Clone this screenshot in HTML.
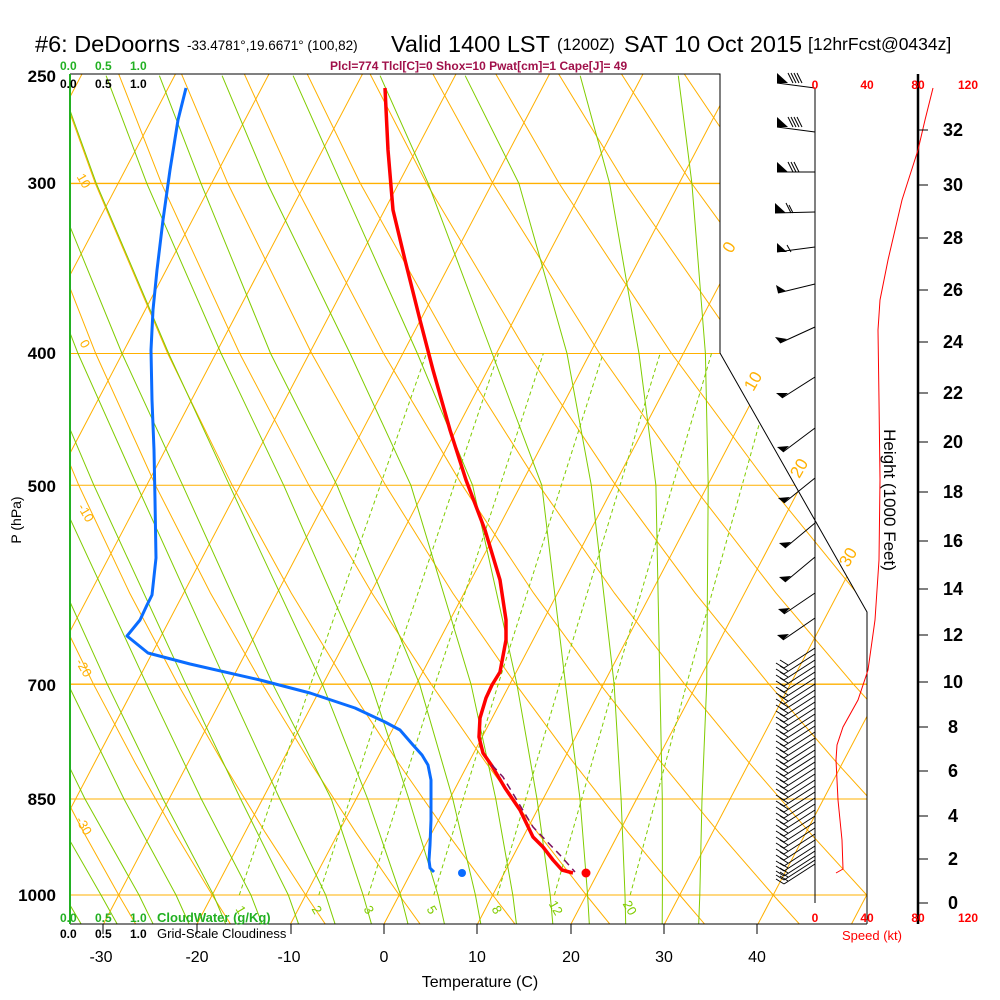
<!DOCTYPE html>
<html><head><meta charset="utf-8"><style>
body{margin:0;background:#fff}
svg{display:block;font-family:"Liberation Sans",Arial,sans-serif}
</style></head><body>
<svg width="1000" height="1000" viewBox="0 0 1000 1000" xmlns="http://www.w3.org/2000/svg" xmlns:xlink="http://www.w3.org/1999/xlink">
<defs>
<clipPath id="cp"><polygon points="70,74 720,74 720,353 867,612 867,924 70,924"/></clipPath>
<g id="wb" stroke="#000" stroke-width="1"><line x1="815" y1="0" x2="784" y2="20"/><line x1="784" y1="20" x2="776" y2="15"/><line x1="788" y1="17" x2="780" y2="12"/></g>
</defs>
<rect width="1000" height="1000" fill="#fff"/>
<g clip-path="url(#cp)" fill="none">
<g stroke="#ffb000" stroke-width="1">
<line x1="70" x2="870" y1="183.4" y2="183.4" stroke-width="1.4"/>
<line x1="70" x2="870" y1="353.5" y2="353.5"/>
<line x1="70" x2="870" y1="485.3" y2="485.3"/>
<line x1="70" x2="870" y1="684.2" y2="684.2" stroke-width="1.4"/>
<line x1="70" x2="870" y1="799" y2="799"/>
<line x1="70" x2="870" y1="895" y2="895"/>
<line x1="-364" y1="924" x2="82" y2="74"/>
<line x1="-270.5" y1="924" x2="175.5" y2="74"/>
<line x1="-177" y1="924" x2="269" y2="74"/>
<line x1="-83.5" y1="924" x2="362.5" y2="74"/>
<line x1="10" y1="924" x2="456" y2="74"/>
<line x1="103.5" y1="924" x2="549.5" y2="74"/>
<line x1="197" y1="924" x2="643" y2="74"/>
<line x1="290.5" y1="924" x2="736.5" y2="74"/>
<line x1="384" y1="924" x2="830" y2="74"/>
<line x1="477.5" y1="924" x2="923.5" y2="74"/>
<line x1="571" y1="924" x2="1017" y2="74"/>
<line x1="664.5" y1="924" x2="1110.5" y2="74"/>
<line x1="758" y1="924" x2="1204" y2="74"/>
<line x1="851.5" y1="924" x2="1297.5" y2="74"/>
<polyline points="40.7,923.8 25.2,895 -6.8,832.7 -40.2,763.1 -75.4,684.2 -112.7,593.1"/>
<polyline points="135.5,923.8 118.7,895 83.9,832.7 47.5,763.1 9,684.2 -31.9,593.1"/>
<polyline points="230.3,923.8 212.2,895 174.7,832.7 135.3,763.1 93.5,684.2 48.9,593.1 2.1,485.3 -48.2,353.5"/>
<polyline points="325.1,923.8 305.7,895 265.4,832.7 223,763.1 177.9,684.2 129.7,593.1 78.8,485.3 23.7,353.5 -37.3,183.4"/>
<polyline points="419.9,923.8 399.2,895 356.1,832.7 310.7,763.1 262.4,684.2 210.5,593.1 155.5,485.3 95.7,353.5 29,183.4 -10.4,63.8"/>
<polyline points="514.8,923.8 492.7,895 446.9,832.7 398.5,763.1 346.8,684.2 291.3,593.1 232.2,485.3 167.7,353.5 95.3,183.4 52.2,63.8"/>
<polyline points="609.6,923.8 586.2,895 537.6,832.7 486.2,763.1 431.2,684.2 372,593.1 308.9,485.3 239.7,353.5 161.5,183.4 114.7,63.8"/>
<polyline points="704.4,923.8 679.7,895 628.3,832.7 573.9,763.1 515.7,684.2 452.8,593.1 385.6,485.3 311.7,353.5 227.8,183.4 177.2,63.8"/>
<polyline points="799.2,923.8 773.2,895 719,832.7 661.6,763.1 600.1,684.2 533.6,593.1 462.3,485.3 383.6,353.5 294.1,183.4 239.7,63.8"/>
<polyline points="894,923.8 866.7,895 809.8,832.7 749.4,763.1 684.6,684.2 614.4,593.1 539,485.3 455.6,353.5 360.3,183.4 302.3,63.8"/>
<polyline points="988.8,923.8 960.2,895 900.5,832.7 837.1,763.1 769,684.2 695.2,593.1 615.7,485.3 527.6,353.5 426.6,183.4 364.8,63.8"/>
<polyline points="1083.6,923.8 1053.7,895 991.2,832.7 924.8,763.1 853.4,684.2 776,593.1 692.4,485.3 599.6,353.5 492.9,183.4 427.3,63.8"/>
<polyline points="1082,832.7 1012.6,763.1 937.9,684.2 856.8,593.1 769.1,485.3 671.6,353.5 559.1,183.4 489.9,63.8"/>
<polyline points="1022.3,684.2 937.6,593.1 845.8,485.3 743.5,353.5 625.4,183.4 552.4,63.8"/>
<polyline points="1018.4,593.1 922.5,485.3 815.5,353.5 691.7,183.4 614.9,63.8"/>
<polyline points="999.2,485.3 887.5,353.5 758,183.4 677.4,63.8"/>
<polyline points="959.5,353.5 824.2,183.4 739.9,63.8"/>
</g>
<g stroke="#80cc00" stroke-width="1" transform="translate(-8,0)">
<polyline points="706.7,923.8 707.8,895 710,799 714.7,684.2 716.2,485.3 713.4,353.5 699.9,183.4 686.3,75.7"/>
<polyline points="670.2,923.8 670.4,895 670.3,799 667.9,684.2 663.9,485.3 647,353.5 617.6,183.4 588.2,75.7"/>
<polyline points="633.7,923.8 633,895 629.1,799 622.1,684.2 599.3,485.3 575,353.5 526.9,183.4 473.2,75.7"/>
<polyline points="597.3,923.8 595.6,895 588,799 573.5,684.2 549.8,485.3 500.2,353.5 436.2,183.4 388.1,75.7"/>
<polyline points="560.8,923.8 558.2,895 545,799 524.9,684.2 480.6,485.3 425.4,353.5 349.2,183.4 301.1,75.7"/>
<polyline points="524.4,923.8 520.8,895 503.8,799 479,684.2 418.9,485.3 358.1,353.5 275.4,183.4 230.1,75.7"/>
<polyline points="488.8,923.8 483.4,895 460.8,799 427.6,684.2 345,485.3 278.6,353.5 209,183.4 167.4,75.7"/>
<polyline points="452.4,923.8 446,895 416.9,799 379,684.2 291.7,485.3 229.1,353.5 154.8,183.4 114.1,75.7"/>
<polyline points="415.9,923.8 408.6,895 375.7,799 330.4,684.2 237.5,485.3 176.7,353.5 104.3,183.4 65.5,75.7"/>
<polyline points="379.4,923.8 371.1,895 339.3,799 280.8,684.2 190.7,485.3 130,353.5 60.3,183.4"/>
<polyline points="343,923.8 333.7,895 287.8,799 235,684.2 144.9,485.3 86,353.5 20.1,183.4"/>
<polyline points="306.5,923.8 296.3,895 248.6,799 193.9,684.2 101.9,485.3 45.8,353.5"/>
<polyline points="270,923.8 258.9,895 209.3,799 154.6,684.2 62.6,485.3 8.4,353.5"/>
<polyline points="233.6,923.8 221.5,895 171,799 115.3,684.2 25.2,485.3"/>
<polyline points="197,923.8 184,895 132,799 76,684.2 -12,485.3"/>
<polyline points="161,923.8 147,895 93,799 37,684.2"/>
<polyline points="125,923.8 109,895 54,799 -2,684.2"/>
<polyline points="89,923.8 72,895 15,799"/>
</g>
<g stroke="#80cc00" stroke-width="1" stroke-dasharray="4,3">
<polyline points="239.3,895 310.7,684.2 426.4,353.5"/>
<polyline points="318.8,895 387.4,684.2 498.4,353.5"/>
<polyline points="368.3,895 435.1,684.2 543.3,353.5"/>
<polyline points="433.8,895 498.2,684.2 603.1,353.5"/>
<polyline points="497.4,895 559.5,684.2 660.1,353.5"/>
<polyline points="554.4,895 614.2,684.2 711.5,353.5"/>
<polyline points="630.2,895 686.6,684.2 778.9,353.5"/>
</g>
</g>
<g fill="none" stroke-linejoin="round">
<polyline points="186,88 178,120 170,170 163,220 157,270 153,310 151,350 152,400 154,450 155,500 156,558 152,595 147,605 140,620 127,636 148,653 190,664 260,680 310,693 355,708 385,722 400,730 413,745 422,755 428,765 431,780 431,800 431,820 430,845 429,860 430,868 434,872" stroke="#0a6cff" stroke-width="3"/>
<polyline points="385,88 388,150 393,210 405,260 420,320 433,370 450,430 466,480 485,530 500,580 506,620 506,640 500,672 492,685 486,698 480,718 479,737 483,753 492,766 505,788 520,810 533,837 543,847 553,860 562,870 573,873" stroke="#f00" stroke-width="3.5"/>
<polyline points="492,765 503,777 533,827 560,855 575,872" stroke="#7a1060" stroke-width="1.5" stroke-dasharray="7,5"/>
</g>
<circle cx="586" cy="873" r="4.5" fill="#f00"/>
<circle cx="462" cy="873" r="4" fill="#0a6cff"/>
<polyline points="70,74 720,74 720,353 867,612 867,924" fill="none" stroke="#000" stroke-width="1"/>
<line x1="70" y1="924" x2="867" y2="924" stroke="#000" stroke-width="1"/>
<line x1="70" y1="74" x2="70" y2="924" stroke="#22b022" stroke-width="2"/>
<g stroke="#000" stroke-width="1">
<line x1="103" y1="924" x2="103" y2="934"/><line x1="197" y1="924" x2="197" y2="934"/><line x1="291" y1="924" x2="291" y2="934"/><line x1="384" y1="924" x2="384" y2="934"/><line x1="477" y1="924" x2="477" y2="934"/><line x1="571" y1="924" x2="571" y2="934"/><line x1="664" y1="924" x2="664" y2="934"/><line x1="757" y1="924" x2="757" y2="934"/>
<line x1="815" y1="88" x2="815" y2="903"/>
</g>
<line x1="918" y1="74" x2="918" y2="924" stroke="#000" stroke-width="2.5"/>
<g stroke="#000" stroke-width="1" fill="#000">
<line x1="815" y1="88" x2="777" y2="83"/><polygon points="777,73 777,83 788,83" stroke="none"/><path d="M788,73 l5,10 M791,73 l5,10 M794,73 l5,10 M797,73 l5,10" fill="none"/>
<line x1="815" y1="132" x2="777" y2="127"/><polygon points="777,117 777,127 788,127" stroke="none"/><path d="M788,117 l5,10 M791,117 l5,10 M794,117 l5,10 M797,117 l5,10" fill="none"/>
<line x1="815" y1="172" x2="777" y2="172"/><polygon points="777,162 777,172 788,172" stroke="none"/><path d="M788,162 l5,10 M791,162 l5,10 M794,162 l5,10" fill="none"/>
<line x1="815" y1="212" x2="775" y2="213"/><polygon points="775,203 775,213 786,213" stroke="none"/><path d="M786,203 l5,10 M789,205 l4,8" fill="none"/>
<line x1="815" y1="247" x2="777" y2="252"/><polygon points="777,243 777,252 787,252" stroke="none"/><path d="M787,245 l4,7" fill="none"/>
<line x1="815" y1="284" x2="778" y2="293"/><polygon points="776,285 778,293 786,291" stroke="none"/>
<line x1="815" y1="327" x2="780" y2="343"/><polygon points="775,337 780,343 787,339" stroke="none"/>
<line x1="815" y1="377" x2="782" y2="398"/><polygon points="776,393 782,398 788,393" stroke="none"/>
<line x1="815" y1="428" x2="783" y2="452"/><polygon points="777,447 783,452 789,446" stroke="none"/>
<line x1="815" y1="478" x2="784" y2="503"/><polygon points="778,498 784,503 790,497" stroke="none"/>
<line x1="815" y1="523" x2="785" y2="548"/><polygon points="779,543 785,548 791,542" stroke="none"/>
<line x1="815" y1="557" x2="785" y2="582"/><polygon points="779,577 785,582 791,576" stroke="none"/>
<line x1="815" y1="593" x2="784" y2="614"/><polygon points="778,609 784,614 790,608" stroke="none"/>
<line x1="815" y1="618" x2="783" y2="640"/><polygon points="777,635 783,640 789,634" stroke="none"/>
</g>
<use xlink:href="#wb" href="#wb" y="648"/><use xlink:href="#wb" href="#wb" y="654"/><use xlink:href="#wb" href="#wb" y="660"/><use xlink:href="#wb" href="#wb" y="666"/><use xlink:href="#wb" href="#wb" y="672"/><use xlink:href="#wb" href="#wb" y="678"/><use xlink:href="#wb" href="#wb" y="684"/><use xlink:href="#wb" href="#wb" y="690"/><use xlink:href="#wb" href="#wb" y="696"/><use xlink:href="#wb" href="#wb" y="702"/><use xlink:href="#wb" href="#wb" y="708"/><use xlink:href="#wb" href="#wb" y="714"/><use xlink:href="#wb" href="#wb" y="720"/><use xlink:href="#wb" href="#wb" y="726"/><use xlink:href="#wb" href="#wb" y="732"/><use xlink:href="#wb" href="#wb" y="738"/><use xlink:href="#wb" href="#wb" y="744"/><use xlink:href="#wb" href="#wb" y="750"/><use xlink:href="#wb" href="#wb" y="756"/><use xlink:href="#wb" href="#wb" y="762"/><use xlink:href="#wb" href="#wb" y="768"/><use xlink:href="#wb" href="#wb" y="774"/><use xlink:href="#wb" href="#wb" y="780"/><use xlink:href="#wb" href="#wb" y="786"/><use xlink:href="#wb" href="#wb" y="792"/><use xlink:href="#wb" href="#wb" y="798"/><use xlink:href="#wb" href="#wb" y="804"/><use xlink:href="#wb" href="#wb" y="810"/><use xlink:href="#wb" href="#wb" y="816"/><use xlink:href="#wb" href="#wb" y="822"/><use xlink:href="#wb" href="#wb" y="828"/><use xlink:href="#wb" href="#wb" y="834"/><use xlink:href="#wb" href="#wb" y="840"/><use xlink:href="#wb" href="#wb" y="846"/><use xlink:href="#wb" href="#wb" y="851"/><use xlink:href="#wb" href="#wb" y="856"/><use xlink:href="#wb" href="#wb" y="860"/><use xlink:href="#wb" href="#wb" y="864"/>
<text x="35" y="52" font-size="23.5">#6: DeDoorns</text>
<text x="187" y="50" font-size="13.5">-33.4781°,19.6671° (100,82)</text>
<text x="391" y="52" font-size="23.5">Valid 1400 LST</text>
<text x="557" y="50" font-size="16.5">(1200Z)</text>
<text x="624" y="52" font-size="23.5">SAT 10 Oct 2015</text>
<text x="808" y="50" font-size="17.5">[12hrFcst@0434z]</text>
<text x="330" y="70" font-size="12" font-weight="bold" fill="#a0104a">Plcl=774 Tlcl[C]=0 Shox=10 Pwat[cm]=1 Cape[J]= 49</text>
<g font-size="12" font-weight="bold" fill="#22b022"><text x="60" y="70">0.0</text><text x="95" y="70">0.5</text><text x="130" y="70">1.0</text></g>
<g font-size="12" font-weight="bold" fill="#000"><text x="60" y="88">0.0</text><text x="95" y="88">0.5</text><text x="130" y="88">1.0</text></g>
<g font-size="12" font-weight="bold" fill="#22b022"><text x="60" y="922">0.0</text><text x="95" y="922">0.5</text><text x="130" y="922">1.0</text><text x="157" y="922" font-size="13">CloudWater (g/Kg)</text></g>
<g font-size="12" font-weight="bold" fill="#000"><text x="60" y="938">0.0</text><text x="95" y="938">0.5</text><text x="130" y="938">1.0</text><text x="157" y="938" font-size="13" font-weight="normal">Grid-Scale Cloudiness</text></g>
<g font-size="17" font-weight="bold" text-anchor="end"><text x="56" y="82">250</text><text x="56" y="189">300</text><text x="56" y="359">400</text><text x="56" y="492">500</text><text x="56" y="691">700</text><text x="56" y="805">850</text><text x="56" y="901">1000</text></g>
<text transform="translate(21,520) rotate(-90)" font-size="14" text-anchor="middle">P (hPa)</text>
<g font-size="16" text-anchor="middle"><text x="101" y="962">-30</text><text x="197" y="962">-20</text><text x="289" y="962">-10</text><text x="384" y="962">0</text><text x="477" y="962">10</text><text x="571" y="962">20</text><text x="664" y="962">30</text><text x="757" y="962">40</text></g>
<text x="480" y="987" font-size="16" text-anchor="middle">Temperature (C)</text>
<g font-size="17" fill="#ffb000" text-anchor="middle"><text transform="translate(734,250) rotate(-60)">0</text><text transform="translate(758,384) rotate(-60)">10</text><text transform="translate(804,471) rotate(-60)">20</text><text transform="translate(853,560) rotate(-60)">30</text></g>
<g font-size="13" fill="#ffb000" text-anchor="middle"><text transform="translate(80,183) rotate(60)">10</text><text transform="translate(81,346) rotate(60)">0</text><text transform="translate(82,515) rotate(60)">-10</text><text transform="translate(80,670) rotate(60)">-20</text><text transform="translate(80,828) rotate(60)">-30</text></g>
<g font-size="13" fill="#80cc00" text-anchor="middle"><text transform="translate(237,912) rotate(60)">1</text><text transform="translate(313,912) rotate(60)">2</text><text transform="translate(365,912) rotate(60)">3</text><text transform="translate(428,912) rotate(60)">5</text><text transform="translate(493,912) rotate(60)">8</text><text transform="translate(552,910) rotate(60)">12</text><text transform="translate(626,910) rotate(60)">20</text></g>
<g font-size="12" font-weight="bold" fill="#f00" text-anchor="middle"><text x="815" y="89">0</text><text x="867" y="89">40</text><text x="918" y="89">80</text><text x="968" y="89">120</text><text x="815" y="922">0</text><text x="867" y="922">40</text><text x="918" y="922">80</text><text x="968" y="922">120</text><text x="872" y="940" font-weight="normal" font-size="13">Speed (kt)</text></g>
<polyline fill="none" stroke="#f00" stroke-width="1" points="836,873 843,869 842,840 838,800 836,760 837,745 843,727 858,700 868,670 875,620 879,560 880,480 879,400 878,330 880,300 888,260 902,200 918,150 925,120 933,88"/>
<g stroke="#000" stroke-width="1">
<line x1="918" x2="928" y1="903" y2="903"/><line x1="918" x2="928" y1="859" y2="859"/><line x1="918" x2="928" y1="816" y2="816"/><line x1="918" x2="928" y1="771" y2="771"/><line x1="918" x2="928" y1="727" y2="727"/><line x1="918" x2="928" y1="682" y2="682"/><line x1="918" x2="928" y1="635" y2="635"/><line x1="918" x2="928" y1="589" y2="589"/><line x1="918" x2="928" y1="541" y2="541"/><line x1="918" x2="928" y1="492" y2="492"/><line x1="918" x2="928" y1="442" y2="442"/><line x1="918" x2="928" y1="393" y2="393"/><line x1="918" x2="928" y1="342" y2="342"/><line x1="918" x2="928" y1="290" y2="290"/><line x1="918" x2="928" y1="238" y2="238"/><line x1="918" x2="928" y1="185" y2="185"/><line x1="918" x2="928" y1="130" y2="130"/>
</g>
<g font-size="18" font-weight="bold" fill="#000" text-anchor="middle">
<text x="953" y="909">0</text><text x="953" y="865">2</text><text x="953" y="822">4</text><text x="953" y="777">6</text><text x="953" y="733">8</text><text x="953" y="688">10</text><text x="953" y="641">12</text><text x="953" y="595">14</text><text x="953" y="547">16</text><text x="953" y="498">18</text><text x="953" y="448">20</text><text x="953" y="399">22</text><text x="953" y="348">24</text><text x="953" y="296">26</text><text x="953" y="244">28</text><text x="953" y="191">30</text><text x="953" y="136">32</text>
</g>
<text transform="translate(884,500) rotate(90)" font-size="17" text-anchor="middle">Height (1000 Feet)</text>
</svg>
</body></html>
